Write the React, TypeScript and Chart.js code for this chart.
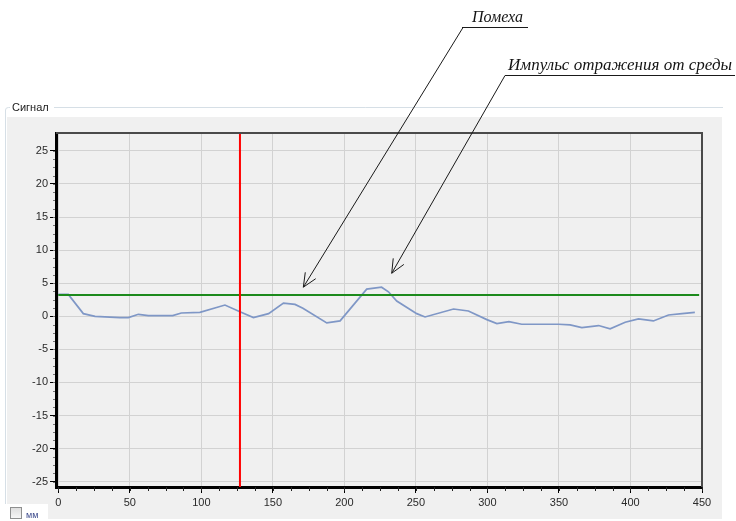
import React, { useEffect, useRef } from "react";
import { Chart, registerables } from "chart.js";

Chart.register(...registerables);

// ---- data ----
const signalX = [0, 7, 17.5, 25.7, 43, 49, 56, 63, 80, 86, 99, 116.5, 127, 136.4, 147, 157.4, 165.5, 171, 187.7, 197, 215.6, 226, 230.8, 236.6, 250.6, 256.4, 276.3, 286.7, 299.6, 306.6, 315, 324, 349.7, 357.8, 366, 377.7, 385.8, 396.3, 405.6, 416, 426.6, 436, 445];
const signalY = [3.3, 3.3, 0.4, 0.0, -0.2, -0.2, 0.3, 0.1, 0.1, 0.5, 0.6, 1.7, 0.7, -0.2, 0.4, 2.0, 1.8, 1.2, -1.0, -0.7, 4.1, 4.4, 3.7, 2.3, 0.4, -0.1, 1.1, 0.8, -0.5, -1.1, -0.8, -1.2, -1.2, -1.3, -1.7, -1.4, -1.9, -0.9, -0.4, -0.7, 0.2, 0.4, 0.6];

const thresholdLevel = 3.2;
const thresholdRange = [0, 448];
const cursorX = 127;

const xMin = -1.6;
const xMax = 450;
const yMin = -25.8;
const yMax = 27.7;
const xTickValues = [0, 50, 100, 150, 200, 250, 300, 350, 400, 450];
const yTickValues = [-25, -20, -15, -10, -5, 0, 5, 10, 15, 20, 25];
const xMinorStep = 12.5;
const yMinorStep = 1.25;

const panelTitle = "Сигнал";
const unitLabel = "мм";
const noteLabels = ["Помеха", "Импульс отражения от среды"];
const noteTargetX = [171.3, 233.1];
const noteTargetY = [4.4, 6.5];

export default function App() {
  const ref = useRef<HTMLCanvasElement | null>(null);

  useEffect(() => {
    const canvas = ref.current;
    if (!canvas) return;

    const tickFont = { family: "'Liberation Sans', Arial, sans-serif", size: 11 };

    const drawArrow = (ctx: CanvasRenderingContext2D, x1: number, y1: number, x2: number, y2: number) => {
      ctx.beginPath();
      ctx.moveTo(x1, y1);
      ctx.lineTo(x2, y2);
      const a = Math.atan2(y1 - y2, x1 - x2);
      const L = 15;
      const s = 0.42;
      ctx.moveTo(x2 + L * Math.cos(a - s), y2 + L * Math.sin(a - s));
      ctx.lineTo(x2, y2);
      ctx.lineTo(x2 + L * Math.cos(a + s), y2 + L * Math.sin(a + s));
      ctx.stroke();
    };

    const drawNote = (ctx: CanvasRenderingContext2D, text: string, left: number, baseline: number, targetW: number) => {
      ctx.save();
      ctx.font = "italic 16px 'Liberation Serif', 'DejaVu Serif', serif";
      ctx.fillStyle = "#141414";
      ctx.textBaseline = "alphabetic";
      const w = ctx.measureText(text).width;
      ctx.translate(left, baseline);
      ctx.scale(targetW / w, 1);
      ctx.fillText(text, 0, 0);
      ctx.restore();
    };

    const decor = {
      id: "decor",
      beforeDraw(chart: any) {
        const ctx = chart.ctx as CanvasRenderingContext2D;
        const a = chart.chartArea;
        ctx.save();
        ctx.fillStyle = "#ffffff";
        ctx.fillRect(0, 0, chart.width, chart.height);
        // group box border
        ctx.strokeStyle = "#d6dfe6";
        ctx.lineWidth = 1;
        ctx.beginPath();
        ctx.moveTo(5.5, 521);
        ctx.lineTo(5.5, 110);
        ctx.quadraticCurveTo(5.5, 107.5, 8.5, 107.5);
        ctx.lineTo(723, 107.5);
        ctx.stroke();
        // title
        ctx.fillStyle = "#ffffff";
        ctx.fillRect(10, 100, 44, 14);
        ctx.font = "11px 'Liberation Sans', Arial, sans-serif";
        ctx.fillStyle = "#1a1a1a";
        ctx.textBaseline = "middle";
        ctx.fillText(panelTitle, 12, 107.5);
        // grey panel
        ctx.fillStyle = "#f0f0f0";
        ctx.fillRect(7, 117, 715, 402);
        // plot area
        ctx.fillStyle = "#f0f0f0";
        ctx.fillRect(a.left, a.top, a.right - a.left, a.bottom - a.top);
        // checkbox
        ctx.fillStyle = "#ffffff";
        ctx.fillRect(0, 504, 48, 17);
        const g = ctx.createLinearGradient(0, 507, 0, 519);
        g.addColorStop(0, "#dcdcdc");
        g.addColorStop(1, "#f8f8f8");
        ctx.fillStyle = g;
        ctx.fillRect(10.5, 507.5, 11, 11);
        ctx.strokeStyle = "#8e8f8f";
        ctx.strokeRect(10.5, 507.5, 11, 11);
        ctx.font = "9px 'Liberation Sans', Arial, sans-serif";
        ctx.fillStyle = "#3c4a8c";
        ctx.textBaseline = "alphabetic";
        ctx.fillText(unitLabel, 26, 518);
        ctx.restore();
      },
      afterDraw(chart: any) {
        const ctx = chart.ctx as CanvasRenderingContext2D;
        const a = chart.chartArea;
        const xs = chart.scales.x;
        const ys = chart.scales.y;
        ctx.save();
        // minor ticks
        ctx.strokeStyle = "#222";
        ctx.lineWidth = 1;
        ctx.beginPath();
        for (let v = 0; v <= xMax + 0.001; v += xMinorStep) {
          const px = Math.round(xs.getPixelForValue(v)) + 0.5;
          ctx.moveTo(px, a.bottom);
          ctx.lineTo(px, a.bottom + 4);
        }
        ctx.stroke();
        ctx.strokeStyle = "#777";
        ctx.beginPath();
        for (let v = -25; v <= 25.001; v += yMinorStep) {
          const py = Math.round(ys.getPixelForValue(v)) + 0.5;
          ctx.moveTo(a.left - 1, py);
          ctx.lineTo(a.left - 3, py);
        }
        ctx.stroke();
        // top and right border
        ctx.strokeStyle = "#4a4a4a";
        ctx.lineWidth = 2;
        ctx.beginPath();
        ctx.moveTo(a.left, a.top);
        ctx.lineTo(a.right, a.top);
        ctx.lineTo(a.right, a.bottom);
        ctx.stroke();
        // annotations
        drawNote(ctx, noteLabels[0], 472, 22, 51);
        drawNote(ctx, noteLabels[1], 508, 70, 224);
        ctx.strokeStyle = "#1a1a1a";
        ctx.lineWidth = 1.2;
        ctx.beginPath();
        ctx.moveTo(462, 27.5);
        ctx.lineTo(528, 27.5);
        ctx.moveTo(505, 75.5);
        ctx.lineTo(735, 75.5);
        ctx.stroke();
        ctx.lineWidth = 1;
        drawArrow(ctx, 463, 27.5, xs.getPixelForValue(noteTargetX[0]), ys.getPixelForValue(noteTargetY[0]));
        drawArrow(ctx, 505, 75.5, xs.getPixelForValue(noteTargetX[1]), ys.getPixelForValue(noteTargetY[1]));
        ctx.restore();
      },
    };

    const chart = new Chart(canvas, {
      type: "line",
      data: {
        datasets: [
          {
            label: "cursor",
            data: [
              { x: cursorX, y: yMin },
              { x: cursorX, y: yMax },
            ],
            borderColor: "#ff0000",
            borderWidth: 2,
            pointRadius: 0,
          },
          {
            label: "threshold",
            data: thresholdRange.map((x) => ({ x, y: thresholdLevel })),
            borderColor: "#1c8a1c",
            borderWidth: 2,
            pointRadius: 0,
          },
          {
            label: "signal",
            data: signalX.map((x, i) => ({ x, y: signalY[i] })),
            borderColor: "#7f97c6",
            borderWidth: 1.7,
            pointRadius: 0,
            tension: 0,
          },
        ],
      },
      options: {
        animation: false,
        responsive: false,
        devicePixelRatio: 1,
        layout: { padding: { left: 16, top: 133, right: 34, bottom: 2 } },
        plugins: { legend: { display: false }, tooltip: { enabled: false } },
        scales: {
          x: {
            type: "linear",
            min: xMin,
            max: xMax,
            afterBuildTicks: (s: any) => {
              s.ticks = xTickValues.map((v) => ({ value: v }));
            },
            afterFit: (s: any) => {
              s.height = 32;
            },
            ticks: { font: tickFont, color: "#2a2a2a", padding: 3, maxRotation: 0, autoSkip: false },
            grid: { color: "#d2d2d2", lineWidth: 1, tickLength: 6, tickColor: "#000" },
            border: { color: "#000", width: 3 },
          },
          y: {
            type: "linear",
            min: yMin,
            max: yMax,
            afterBuildTicks: (s: any) => {
              s.ticks = yTickValues.map((v) => ({ value: v }));
            },
            afterFit: (s: any) => {
              s.width = 40;
            },
            ticks: { font: tickFont, color: "#2a2a2a", padding: 2, autoSkip: false },
            grid: { color: "#d2d2d2", lineWidth: 1, tickLength: 6, tickColor: "#000" },
            border: { color: "#000", width: 3 },
          },
        },
      },
      plugins: [decor],
    } as any);

    return () => chart.destroy();
  }, []);

  return (
    <div style={{ position: "fixed", left: 0, top: 0, width: 736, height: 521 }}>
      <canvas ref={ref} width={736} height={521} style={{ display: "block", width: 736, height: 521 }} />
    </div>
  );
}
